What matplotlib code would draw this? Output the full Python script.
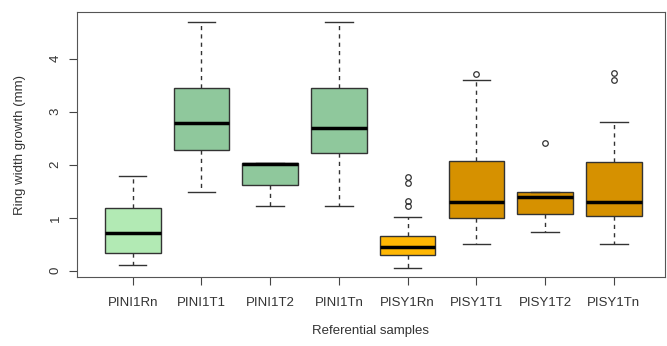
import matplotlib
matplotlib.use('Agg')
import matplotlib.pyplot as plt

plt.rcParams['font.family'] = ['Liberation Sans', 'DejaVu Sans']

samples = ['PINI1Rn', 'PINI1T1', 'PINI1T2', 'PINI1Tn', 'PISY1Rn', 'PISY1T1', 'PISY1T2', 'PISY1Tn']
whislo = [0.10, 1.48, 1.23, 1.23, 0.06, 0.50, 0.74, 0.50]
q1 = [0.33, 2.28, 1.62, 2.22, 0.30, 1.00, 1.07, 1.03]
med = [0.71, 2.79, 2.01, 2.69, 0.45, 1.29, 1.385, 1.30]
q3 = [1.18, 3.45, 2.03, 3.44, 0.65, 2.07, 1.48, 2.06]
whishi = [1.79, 4.70, 2.03, 4.70, 1.02, 3.60, 1.48, 2.80]
fliers = [[], [], [], [], [1.76, 1.65, 1.32, 1.22], [3.72], [2.42], [3.74, 3.60]]
colors = ['#b2eab4', '#8fc89c', '#8fc89c', '#8fc89c', '#ffb703', '#d69100', '#d69100', '#d69100']

stats = []
for i in range(len(samples)):
    stats.append(dict(label=samples[i], whislo=whislo[i], q1=q1[i], med=med[i],
                      q3=q3[i], whishi=whishi[i], fliers=fliers[i]))

fig = plt.figure(figsize=(6.67, 3.46), dpi=100)
ax = fig.add_axes([0.1155, 0.199, 0.881, 0.766])

bp = ax.bxp(stats, widths=0.81, patch_artist=True, showfliers=True,
            boxprops=dict(edgecolor='#333333', linewidth=1),
            medianprops=dict(color='black', linewidth=2.5),
            whiskerprops=dict(color='#333333', linestyle=(0, (3, 3)), linewidth=1),
            capprops=dict(color='#333333', linewidth=1),
            flierprops=dict(marker='o', markerfacecolor='none', markeredgecolor='#333333',
                            markersize=4, markeredgewidth=0.9))
for box, c in zip(bp['boxes'], colors):
    box.set_facecolor(c)
# R-style short caps
for cap in bp['caps']:
    x0, x1 = cap.get_xdata()
    mid = (x0 + x1) / 2
    cap.set_xdata([mid - 0.2, mid + 0.2])

ax.set_xlim(0.19, 8.74)
ax.set_ylim(-0.12, 4.88)
ax.set_yticks([0, 1, 2, 3, 4])
ax.set_yticklabels(['0', '1', '2', '3', '4'], rotation=90, va='center')
ax.tick_params(colors='#444444', labelcolor='#333333', labelsize=9.5, length=6)
ax.tick_params(axis='x', pad=8)
ax.tick_params(axis='y', pad=5)
for s in ax.spines.values():
    s.set_color('#555555')
ax.set_xlabel('Referential samples', fontsize=9.5, color='#333333', labelpad=12)
ax.set_ylabel('Ring width growth (mm)', fontsize=9.5, color='#333333', labelpad=17)

plt.savefig('out.png', dpi=100)
